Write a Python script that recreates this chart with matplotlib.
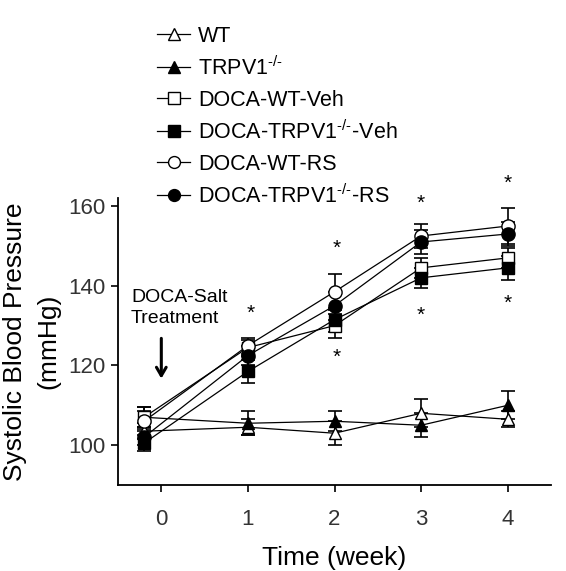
import matplotlib
matplotlib.use("Agg")
import matplotlib.pyplot as plt

plt.rcParams.update({"font.family": "Liberation Sans", "mathtext.fontset": "custom",
                     "mathtext.rm": "Liberation Sans", "mathtext.it": "Liberation Sans",
                     "axes.linewidth": 1.3, "xtick.major.width": 1.2,
                     "ytick.major.width": 1.2, "xtick.major.size": 5, "ytick.major.size": 5})

# time points (baseline drawn slightly left of tick 0)
weeks = [-0.2, 1, 2, 3, 4]
tick_weeks = [0, 1, 2, 3, 4]

labels = ["WT", r"TRPV1$^{\text{-/-}}$", "DOCA-WT-Veh", r"DOCA-TRPV1$^{\text{-/-}}$-Veh",
          "DOCA-WT-RS", r"DOCA-TRPV1$^{\text{-/-}}$-RS"]
wt = [103.5, 104.5, 103, 108, 106.5]
wt_err = [2, 2, 3, 3.5, 2]
ko = [107, 105.5, 106, 105, 110]
ko_err = [2.5, 3, 2.5, 3, 3.5]
wt_veh = [107, 124.5, 130, 144.5, 147]
wt_veh_err = [2.5, 2, 3, 2.5, 2.5]
ko_veh = [100.5, 118.5, 131.5, 142, 144.5]
ko_veh_err = [2, 3, 3, 2.5, 3]
wt_rs = [106, 125, 138.5, 152.5, 155]
wt_rs_err = [2.5, 2, 4.5, 3, 4.5]
ko_rs = [102, 122.5, 135, 151, 153]
ko_rs_err = [2, 2.5, 3.5, 3, 3]

# significance stars (week, mmHg)
star_x = [1.03, 2.03, 2.03, 3, 3, 4, 4]
star_y = [133, 149.5, 122, 160.7, 132.7, 165.7, 135.7]

series = [(wt, wt_err, "^", "white", 9),
          (ko, ko_err, "^", "black", 9),
          (wt_veh, wt_veh_err, "s", "white", 9),
          (ko_veh, ko_veh_err, "s", "black", 9),
          (wt_rs, wt_rs_err, "o", "white", 9.5),
          (ko_rs, ko_rs_err, "o", "black", 9.5)]

fig = plt.figure(figsize=(5.66, 5.71), dpi=100)
ax = fig.add_axes([0.2085, 0.1506, 0.765, 0.5024])

handles = []
for (vals, err, mk, fc, ms), lab in zip(series, labels):
    ax.errorbar(weeks, vals, yerr=err, fmt="none", ecolor="black", elinewidth=1.2,
                capsize=5, capthick=1.2, zorder=2)
    h, = ax.plot(weeks, vals, color="black", lw=0.9, marker=mk, ms=ms, mfc=fc,
                 mec="black", mew=1.0, label=lab, zorder=3)
    handles.append(h)

for x, y in zip(star_x, star_y):
    ax.text(x, y, "*", ha="center", va="center", fontsize=15, clip_on=False)

ax.text(-0.35, 134.4, "DOCA-Salt\nTreatment", fontsize=14, ha="left", va="center",
        linespacing=1.25)
ax.annotate("", xy=(0, 116), xytext=(0, 127.5),
            arrowprops=dict(arrowstyle="->,head_length=0.6,head_width=0.35", lw=2.2,
                            color="black"))

ax.set_xlim(-0.5, 4.5)
ax.set_ylim(90, 162)
ax.set_xticks(tick_weeks)
ax.set_yticks([100, 120, 140, 160])
ax.tick_params(labelsize=16, labelcolor="#333333")
ax.tick_params(axis="x", pad=12)
ax.tick_params(axis="y", pad=4)
ax.spines["top"].set_visible(False)
ax.spines["right"].set_visible(False)
ax.set_xlabel("Time (week)", fontsize=19, labelpad=12)
ax.set_ylabel("Systolic Blood Pressure\n(mmHg)", fontsize=19, labelpad=6, linespacing=1.45)

fig.legend(handles=handles, loc="upper left", bbox_to_anchor=(0.263, 0.97),
           frameon=False, fontsize=15.5, handlelength=1.5, handletextpad=0.4,
           labelspacing=0.45, borderaxespad=0, markerscale=0.9)

fig.savefig("out.png", dpi=100)
